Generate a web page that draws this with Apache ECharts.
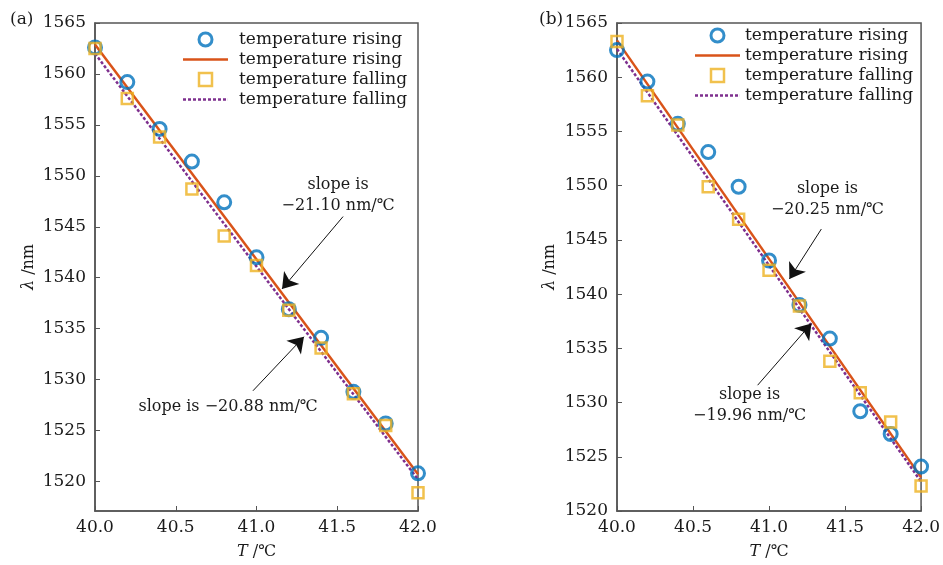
<!DOCTYPE html>
<html>
<head>
<meta charset="utf-8">
<script src="https://cdn.jsdelivr.net/npm/echarts@6/dist/echarts.min.js"></script>
<style>
  html, body { margin: 0; padding: 0; background: #fff; }
  #fig { width: 943px; height: 565px; }
</style>
</head>
<body>
<div id="fig"></div>
<script>
// temperatures (x), same for both panels
var temps = [40.0, 40.2, 40.4, 40.6, 40.8, 41.0, 41.2, 41.4, 41.6, 41.8, 42.0];

// panel (a)
var riseA = [1562.6, 1559.2, 1554.6, 1551.4, 1547.4, 1542.0, 1536.9, 1534.1, 1528.8, 1525.7, 1520.8];
var fallA = [1562.5, 1557.6, 1553.8, 1548.7, 1544.1, 1541.2, 1536.8, 1533.1, 1528.6, 1525.5, 1518.9];
var fitRiseA = [1562.9, 1520.7];
var fitFallA = [1562.0, 1520.2];

// panel (b)
var riseB = [1562.5, 1559.6, 1555.7, 1553.1, 1549.9, 1543.1, 1539.0, 1535.9, 1529.2, 1527.1, 1524.1];
var fallB = [1563.3, 1558.3, 1555.6, 1549.9, 1546.9, 1542.2, 1538.9, 1533.8, 1530.9, 1528.2, 1522.3];
var fitRiseB = [1563.4, 1523.1];
var fitFallB = [1562.6, 1522.7];

var fitTemps = [40.0, 42.0];
var xTicks = [40.0, 40.5, 41.0, 41.5, 42.0];
var yTicks = [1520, 1525, 1530, 1535, 1540, 1545, 1550, 1555, 1560, 1565];

// arrows [from, to] and slope labels, in data units
var arrowsA = [[[41.536, 1546.0], [41.158, 1538.9]], [[40.978, 1528.9], [41.294, 1534.2]]];
var notesA = [[41.505, 1548.1, 'slope is\n\u221221.10 nm/\u2103'], [40.824, 1527.3, 'slope is \u221220.88 nm/\u2103']];
var arrowsB = [[[41.344, 1546.0], [41.134, 1541.4]], [[40.925, 1531.6], [41.279, 1537.3]]];
var notesB = [[41.384, 1548.7, 'slope is\n\u221220.25 nm/\u2103'], [40.872, 1529.7, 'slope is\n\u221219.96 nm/\u2103']];

var FONT = 'DejaVu Serif';
var C_BLUE = '#0072BD', C_RED = '#D95319', C_YEL = '#EDB120', C_PUR = '#7E2F8E';

var legendText = {
    a_rp: 'temperature rising', a_rl: 'temperature rising',
    a_fp: 'temperature falling', a_fl: 'temperature falling',
    b_rp: 'temperature rising', b_rl: 'temperature rising',
    b_fp: 'temperature falling', b_fl: 'temperature falling'
};

// legend icons: plain line, dotted line, hollow square
var ICON_LINE = 'path://M0,0h45v2.4h-45z';
var ICON_SQUARE = 'path://M0,0h10v10h-10z';
var dotPath = '';
for (var k = 0; k < 9; k++) dotPath += 'M' + (k * 5) + ',0h3v2.4h-3z';
var ICON_DOTS = 'path://' + dotPath + 'M44.9,0h0.1v2.4h-0.1z';

function pairs(xs, ys) {
    var out = [];
    for (var i = 0; i < xs.length; i++) out.push([xs[i], ys[i]]);
    return out;
}

function panelSeries(p, idx, rise, fall, fitRise, fitFall, arrows, notes) {
    var arrowData = arrows.map(function(a) {
        return [{ coord: a[0] }, { coord: a[1] }];
    });
    var noteData = notes.map(function(n) {
        return { coord: [n[0], n[1]], label: { formatter: n[2] } };
    });
    return [
        {
            name: p + '_rl', type: 'line', xAxisIndex: idx, yAxisIndex: idx,
            data: pairs(fitTemps, fitRise), symbol: 'none', silent: true,
            lineStyle: { color: C_RED, width: 2.5 }, itemStyle: { color: C_RED }, z: 2
        },
        {
            name: p + '_fl', type: 'line', xAxisIndex: idx, yAxisIndex: idx,
            data: pairs(fitTemps, fitFall), symbol: 'none', silent: true,
            lineStyle: { color: C_PUR, width: 2.5, type: [3, 2] }, itemStyle: { color: C_PUR }, z: 2,
            markLine: {
                silent: true, symbol: ['none', 'arrow'], symbolSize: 15,
                lineStyle: { color: '#111', width: 1, type: 'solid' },
                label: { show: false }, data: arrowData
            },
            markPoint: {
                silent: true, symbol: 'circle', symbolSize: 0,
                label: { show: true, position: 'inside', color: '#1a1a1a', fontFamily: FONT, fontSize: 16, lineHeight: 21 },
                data: noteData
            }
        },
        {
            name: p + '_rp', type: 'scatter', xAxisIndex: idx, yAxisIndex: idx,
            data: pairs(temps, rise), symbol: 'circle', symbolSize: 13,
            itemStyle: { color: 'rgba(255,255,255,0)', borderColor: C_BLUE, borderWidth: 3 }, z: 3
        },
        {
            name: p + '_fp', type: 'scatter', xAxisIndex: idx, yAxisIndex: idx,
            data: pairs(temps, fall), symbol: 'rect', symbolSize: 11,
            itemStyle: { color: 'rgba(255,255,255,0)', borderColor: C_YEL, borderWidth: 2.5 }, z: 3
        }
    ];
}

function xAxisFor(idx) {
    return {
        type: 'value', gridIndex: idx, min: 40, max: 42, interval: 0.5,
        name: '{i|T} /\u2103', nameLocation: 'middle', nameGap: 33,
        nameTextStyle: { color: '#1a1a1a', fontFamily: FONT, fontSize: 16, rich: { i: { fontStyle: 'italic', fontFamily: FONT, fontSize: 16 } } },
        axisLine: { show: true, lineStyle: { color: '#555', width: 1.5 } },
        axisTick: { show: true, inside: true, length: 5, lineStyle: { color: '#555' } },
        axisLabel: { color: '#1a1a1a', fontFamily: FONT, fontSize: 17, margin: 8, formatter: function(v) { return v.toFixed(1); } },
        splitLine: { show: false }
    };
}

function yAxisFor(idx, min, gap) {
    return {
        type: 'value', gridIndex: idx, min: min, max: 1565,
        name: '{i|\u03bb} /nm', nameLocation: 'middle', nameGap: gap, nameRotate: 90,
        nameTextStyle: { color: '#1a1a1a', fontFamily: FONT, fontSize: 16, rich: { i: { fontStyle: 'italic', fontFamily: FONT, fontSize: 16 } } },
        axisLine: { show: true, lineStyle: { color: '#555', width: 1.5 } },
        axisTick: { show: true, inside: true, length: 5, customValues: yTicks, lineStyle: { color: '#555' } },
        axisLabel: { color: '#1a1a1a', fontFamily: FONT, fontSize: 17, margin: 9, customValues: yTicks,
            formatter: function(v) { return String(v); } },
        splitLine: { show: false }
    };
}

function legendFor(p, left, top, textPad) {
    return {
        orient: 'vertical', left: left, top: top, padding: 0,
        itemWidth: 45, itemHeight: 13, itemGap: 3,
        data: [
            { name: p + '_rp', icon: 'circle', itemStyle: { color: 'rgba(255,255,255,0)', borderColor: C_BLUE, borderWidth: 3 } },
            { name: p + '_rl', icon: ICON_LINE, itemStyle: { color: C_RED, borderWidth: 0 } },
            { name: p + '_fp', icon: ICON_SQUARE, itemStyle: { color: 'rgba(255,255,255,0)', borderColor: C_YEL, borderWidth: 2.5 } },
            { name: p + '_fl', icon: ICON_DOTS, itemStyle: { color: C_PUR, borderWidth: 0 } }
        ],
        formatter: function(name) { return legendText[name]; },
        textStyle: { color: '#1a1a1a', fontFamily: FONT, fontSize: 17, padding: [0, 0, 0, textPad] },
        selectedMode: false
    };
}

var option = {
    animation: false,
    backgroundColor: '#fff',
    title: [
        { text: '(a)', left: 10, top: 11, padding: 0, textStyle: { fontFamily: FONT, fontSize: 17, fontWeight: 'normal', color: '#1a1a1a' } },
        { text: '(b)', left: 539, top: 11, padding: 0, textStyle: { fontFamily: FONT, fontSize: 17, fontWeight: 'normal', color: '#1a1a1a' } }
    ],
    grid: [
        { left: 95, top: 23, width: 323, height: 490, show: true, borderColor: '#555', borderWidth: 1.5 },
        { left: 617, top: 23, width: 305, height: 491, show: true, borderColor: '#555', borderWidth: 1.5 }
    ],
    legend: [
        legendFor('a', 183, 31, 6),
        legendFor('b', 695, 27, 0)
    ],
    xAxis: [xAxisFor(0), xAxisFor(1)],
    yAxis: [yAxisFor(0, 1517.1, 58), yAxisFor(1, 1520, 59)],
    series: [].concat(
        panelSeries('a', 0, riseA, fallA, fitRiseA, fitFallA, arrowsA, notesA),
        panelSeries('b', 1, riseB, fallB, fitRiseB, fitFallB, arrowsB, notesB)
    )
};

var chart = echarts.init(document.getElementById('fig'));
chart.setOption(option);
</script>
</body>
</html>
